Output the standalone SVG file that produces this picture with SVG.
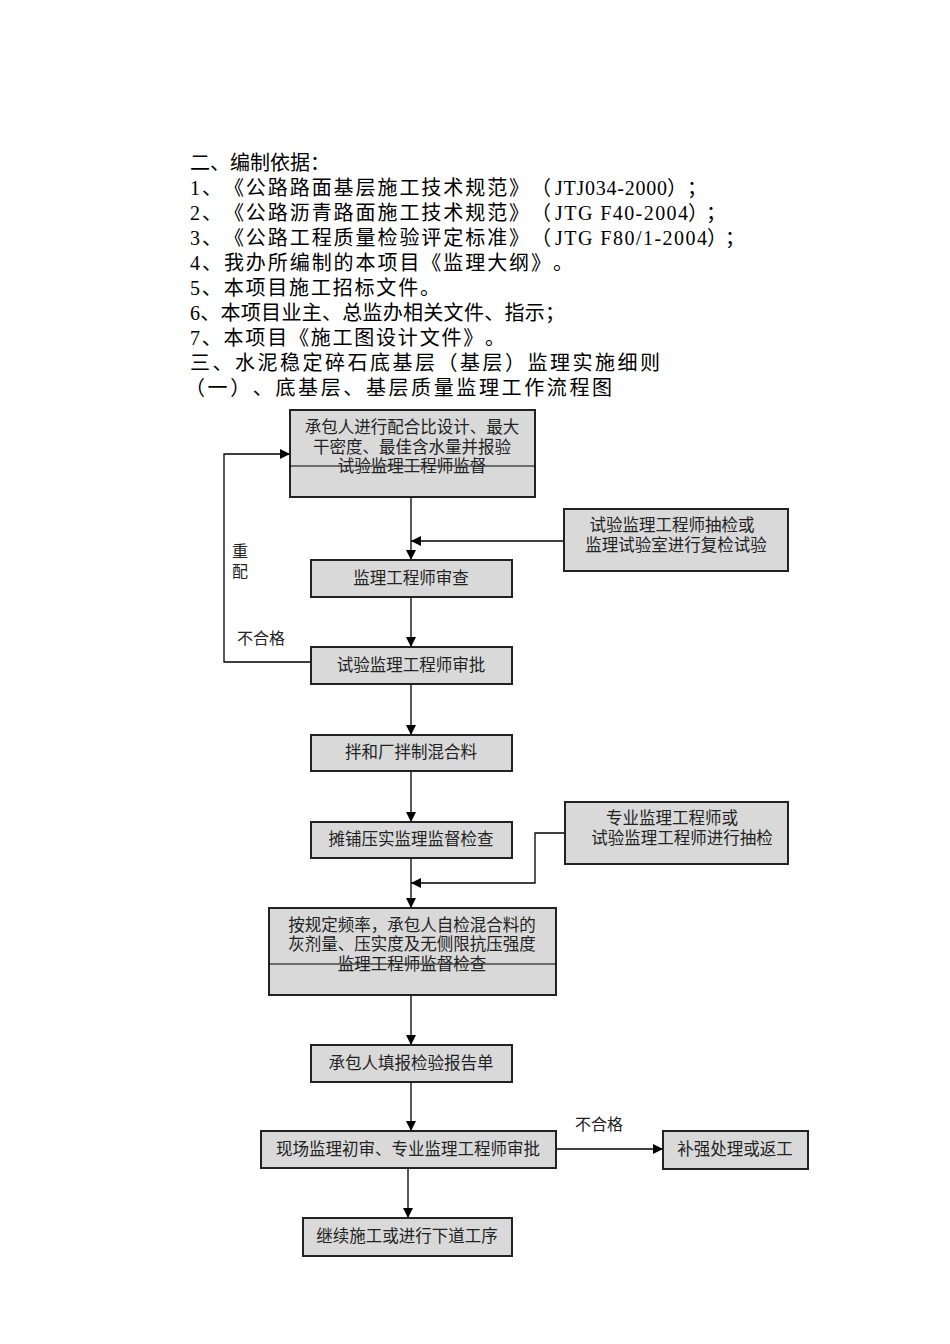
<svg xmlns="http://www.w3.org/2000/svg" width="950" height="1344" viewBox="0 0 950 1344">
<defs>
<marker id="ah" viewBox="0 0 10 10" refX="10" refY="5" markerWidth="10" markerHeight="10" markerUnits="userSpaceOnUse" orient="auto">
<path d="M0,0 L10,5 L0,10 z" fill="#000"/>
</marker>
<style>
text{text-spacing-trim:space-all}
.hd{font-family:"Liberation Serif","Noto Sans CJK SC",serif;font-size:20px;fill:#000}
.bx rect{fill:#d9d9d9;stroke:#222;stroke-width:2}
.bx line{stroke:#000;stroke-width:1.2}
.bt{font-family:"Liberation Serif","Noto Sans CJK SC",serif;font-size:16.5px;fill:#222;text-anchor:middle}
.lb{font-family:"Liberation Serif","Noto Sans CJK SC",serif;font-size:16px;fill:#222}
.cn line,.cn polyline{stroke:#000;stroke-width:1.3;fill:none}
</style>
</defs>
<rect width="950" height="1344" fill="#fff"/>
<g id="header">
<text class="hd" x="190" y="170" textLength="140" lengthAdjust="spacing">二、编制依据：</text>
<text class="hd" y="195"><tspan x="190" textLength="361" lengthAdjust="spacing">1、《公路路面基层施工技术规范》（</tspan><tspan x="555" textLength="112" lengthAdjust="spacing">JTJ034-2000</tspan><tspan x="667" textLength="40" lengthAdjust="spacing">）；</tspan></text>
<text class="hd" y="220"><tspan x="190" textLength="361" lengthAdjust="spacing">2、《公路沥青路面施工技术规范》（</tspan><tspan x="555" textLength="133" lengthAdjust="spacing">JTG F40-2004</tspan><tspan x="688" textLength="38" lengthAdjust="spacing">）；</tspan></text>
<text class="hd" y="245"><tspan x="190" textLength="361" lengthAdjust="spacing">3、《公路工程质量检验评定标准》（</tspan><tspan x="555" textLength="152" lengthAdjust="spacing">JTG F80/1-2004</tspan><tspan x="707" textLength="38" lengthAdjust="spacing">）；</tspan></text>
<text class="hd" x="190" y="270" textLength="383" lengthAdjust="spacing">4、我办所编制的本项目《监理大纲》。</text>
<text class="hd" x="190" y="295" textLength="250" lengthAdjust="spacing">5、本项目施工招标文件。</text>
<text class="hd" x="190" y="320" textLength="375" lengthAdjust="spacing">6、本项目业主、总监办相关文件、指示；</text>
<text class="hd" x="190" y="345" textLength="315" lengthAdjust="spacing">7、本项目《施工图设计文件》。</text>
<text class="hd" x="190" y="370" textLength="470" lengthAdjust="spacing">三、水泥稳定碎石底基层（基层）监理实施细则</text>
<text class="hd" x="185" y="395" textLength="427" lengthAdjust="spacing">（一）、底基层、基层质量监理工作流程图</text>
</g>
<g id="connectors" class="cn">
<line x1="411" y1="497" x2="411" y2="560" marker-end="url(#ah)"/>
<line x1="564" y1="541" x2="411" y2="541" marker-end="url(#ah)"/>
<line x1="411" y1="597" x2="411" y2="647" marker-end="url(#ah)"/>
<polyline points="311,662 224,662 224,454 290,454" marker-end="url(#ah)"/>
<line x1="411" y1="684" x2="411" y2="735" marker-end="url(#ah)"/>
<line x1="411" y1="771" x2="411" y2="822" marker-end="url(#ah)"/>
<polyline points="565,833 535,833 535,883 411,883" marker-end="url(#ah)"/>
<line x1="411" y1="858" x2="411" y2="908" marker-end="url(#ah)"/>
<line x1="411" y1="995" x2="411" y2="1045" marker-end="url(#ah)"/>
<line x1="411" y1="1082" x2="411" y2="1131" marker-end="url(#ah)"/>
<line x1="556" y1="1149" x2="663" y2="1149" marker-end="url(#ah)"/>
<line x1="408" y1="1168" x2="408" y2="1218" marker-end="url(#ah)"/>
<text class="lb" x="232" y="557">重</text>
<text class="lb" x="232" y="577">配</text>
<text class="lb" x="237" y="644">不合格</text>
<text class="lb" x="575" y="1130">不合格</text>
</g>
<g id="n1" class="bx">
<rect x="290" y="410" width="245" height="87"/>
<line x1="290" y1="466" x2="535" y2="466"/>
<text class="bt" x="412" y="433">承包人进行配合比设计、最大</text>
<text class="bt" x="412" y="453">干密度、最佳含水量并报验</text>
<text class="bt" x="412" y="472">试验监理工程师监督</text>
</g>
<g id="n2" class="bx">
<rect x="564" y="509" width="224" height="62"/>
<text class="bt" x="672" y="531">试验监理工程师抽检或</text>
<text class="bt" x="676" y="551">监理试验室进行复检试验</text>
</g>
<g id="n3" class="bx">
<rect x="311" y="560" width="201" height="37"/>
<text class="bt" x="411" y="584">监理工程师审查</text>
</g>
<g id="n4" class="bx">
<rect x="311" y="647" width="201" height="37"/>
<text class="bt" x="411" y="671">试验监理工程师审批</text>
</g>
<g id="n5" class="bx">
<rect x="311" y="735" width="201" height="36"/>
<text class="bt" x="411" y="758">拌和厂拌制混合料</text>
</g>
<g id="n6" class="bx">
<rect x="311" y="822" width="201" height="36"/>
<text class="bt" x="411" y="845">摊铺压实监理监督检查</text>
</g>
<g id="n7" class="bx">
<rect x="565" y="802" width="223" height="62"/>
<text class="bt" x="672" y="824">专业监理工程师或</text>
<text class="bt" x="682" y="844">试验监理工程师进行抽检</text>
</g>
<g id="n8" class="bx">
<rect x="269" y="908" width="287" height="87"/>
<line x1="269" y1="964" x2="556" y2="964"/>
<text class="bt" x="412" y="931">按规定频率，承包人自检混合料的</text>
<text class="bt" x="412" y="950">灰剂量、压实度及无侧限抗压强度</text>
<text class="bt" x="412" y="970">监理工程师监督检查</text>
</g>
<g id="n9" class="bx">
<rect x="311" y="1045" width="201" height="37"/>
<text class="bt" x="411" y="1069">承包人填报检验报告单</text>
</g>
<g id="n10" class="bx">
<rect x="261" y="1131" width="295" height="37"/>
<text class="bt" x="408" y="1155">现场监理初审、专业监理工程师审批</text>
</g>
<g id="n11" class="bx">
<rect x="663" y="1131" width="145" height="38"/>
<text class="bt" x="735" y="1155">补强处理或返工</text>
</g>
<g id="n12" class="bx">
<rect x="303" y="1218" width="209" height="38"/>
<text class="bt" x="407" y="1242">继续施工或进行下道工序</text>
</g>
</svg>
